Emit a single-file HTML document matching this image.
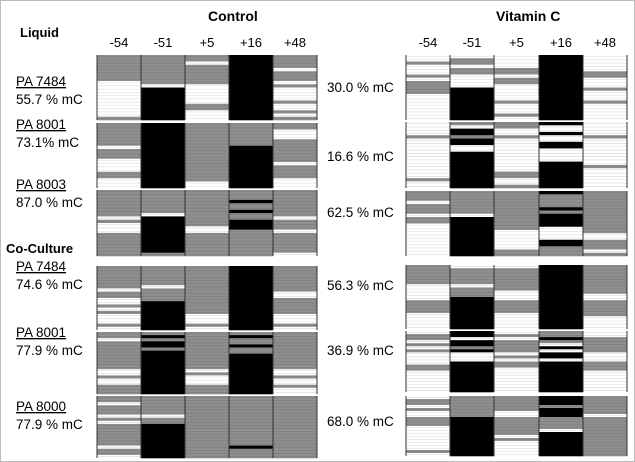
<!DOCTYPE html>
<html><head><meta charset="utf-8"><style>
html,body{margin:0;padding:0;background:#fff}
svg{display:block;font-family:"Liberation Sans",sans-serif}
</style></head><body>
<svg id="fig" width="635" height="462">
<rect x="0.5" y="0.5" width="634" height="461" fill="#fff" stroke="#bbb"/>
<text x="208" y="21" font-size="14" font-weight="bold">Control</text>
<text x="496" y="21" font-size="14" font-weight="bold">Vitamin C</text>
<text x="20" y="37" font-size="13" font-weight="bold">Liquid</text>
<text x="6" y="253" font-size="13" font-weight="bold">Co-Culture</text>
<g id="grid"></g>
</svg>
<script>
const positions = ["-54","-51","+5","+16","+48"];
const leftNames = ["PA 7484","PA 8001","PA 8003","PA 7484","PA 8001","PA 8000"];
const leftPct = ["55.7 % mC","73.1% mC","87.0 % mC","74.6 % mC","77.9 % mC","77.9 % mC"];
const rightPct = ["30.0 % mC","16.6 % mC","62.5 % mC","56.3 % mC","36.9 % mC","68.0 % mC"];
const controlCells = [
 ["ggggggggwwwwwwwwwwwg","gggggggggwbbbbbbbbbb","ggwggggggwwwwwwggwww","bbbbbbbbbbbbbbbbbbbb","ggggwgggwgwwwwgwwgwg"],
 ["gggggggwgggwwwwggwww","bbbbbbbbbbbbbbbbbbbb","ggggggggggggggggggww","gggggggbbbbbbbbbbbbb","ggwwwgggggggwggggwww"],
 ["ggggggggwgwwwggggggg","gggggggwbbbbbbbbbbbg","gggggggggggwwggggggg","gggbggbggbbbgggggggg","ggggggggwgggwggggggw"],
 ["gggggggwggwwgwgwwwgw","ggggggwggggbbbbbbbbb","gggggggggggggggwwwgw","bbbbbbbbbbbbbbbbbbbb","ggggggggwwgggggwwwgw"],
 ["ggwgggggggggwwgwwggg","gbgbbgbbbbbbbbbbbbbb","ggggggggggggwgwwwggg","gbggbggbbbbbbbbbbbbb","ggggggggggggwwgwwgww"],
 ["ggwgggwgwgggggggwggw","ggggggwggbbbbbbbbbbb","gggggggggggggggggggg","ggggggggggggggggbggg","gggggggggggggggggggg"]
];
const vitCCells = [
 ["wwgwwwgwggggwwwwwwww","wggwggwwwwbbbbbbbbbb","wwwwggwggwwwwwgwwwgw","bbbbbbbbbbbbbbbbbbbb","wwwwwggwwwgwwwgwwwww"],
 ["wwwwgwwwwwwwwwwwwgww","gwbbgbbwwbbbbbbbbbbb","ggwwgwwwwwwwwwwggwwg","bwwbwwbbwwwwbbbbbbbb","wwwwgwwwwwwwwgwwwwww"],
 ["gggwgggwggwwwwwwwwww","gggggggwbbbbbbbbbbbb","ggggggggggggwwwwwwgg","bggggbgbbbbwwwwbbggg","gggggggggggggwwgggwg"],
 ["ggggggwwwwwggggwwwww","wgggggwgggbbbbbbbbbb","wgggggggwwwggggwwwww","bbbbbbbbbbbbbbbbbbbb","gggggggggwwgggggwwww"],
 ["wggwgwgwwwwggwwwwwww","bbwbbgbwwwbbbbbbbbbb","wgwggggwgwggwwwwwwww","ggbgwbwbbwbbbbbbbbbb","wwgggggwwwgggwwwwwww"],
 ["wggwgwwgggwwwwwwwwgw","gggggggbbbbbbbbbbbbb","gggggwwggggggwgwwwww","bbbgbbbggggwbbbbbbbb","ggggggwggggggggggggg"]
];
const leftX = [97,141,185,229,273,317];
const rightX = [406,450,494,539,583,627];
const panelsL = [[55,120],[123,188],[190,256],[266,330],[332,394],[396,458]];
const panelsR = [[55,120],[122,188],[191,256],[265,329],[331,392],[396,456]];
const colors = {g:"#8e8e8e", w:"#ffffff", b:"#000000"};
const NS = "http://www.w3.org/2000/svg";
const grid = document.getElementById("grid");
function mk(tag, attrs){const e=document.createElementNS(NS,tag);for(const k in attrs)e.setAttribute(k,attrs[k]);return e;}
function drawGrid(cells, xs, panels, side){
  cells.forEach((panel,pi)=>{
    const [y0,y1]=panels[pi];
    const g=mk("g",{});
    
    
    panel.forEach((col,ci)=>{
      const x0=xs[ci], x1=xs[ci+1];
      const n=col.length, h=(y1-y0)/n;
      for(let r=0;r<n;r++){
        const c=col[r];
        const rr=mk("rect",{x:x0,y:y0+r*h,width:x1-x0,height:h+0.3,fill:colors[c]});
        
        
        g.appendChild(rr);
        if(c!=="b"){
          const ln=mk("line",{x1:x0,x2:x1,y1:y0+r*h+h/2,y2:y0+r*h+h/2,stroke:c==="w"?"#d8d8d8":"#7a7a7a","stroke-width":0.6});
          g.appendChild(ln);
        }
      }
      const sep=mk("line",{x1:x0,x2:x0,y1:y0,y2:y1,stroke:"#333","stroke-width":1});
      g.appendChild(sep);
    });
    const sep=mk("line",{x1:xs[5],x2:xs[5],y1:y0,y2:y1,stroke:"#333","stroke-width":1});
    g.appendChild(sep);
    grid.appendChild(g);
  });
  positions.forEach((p,i)=>{
    const t=mk("text",{x:(xs[i]+xs[i+1])/2,y:47,"font-size":13,"text-anchor":"middle"});
    t.textContent=p;
    
    
    grid.appendChild(t);
  });
}
drawGrid(controlCells, leftX, panelsL, "control");
drawGrid(vitCCells, rightX, panelsR, "vitamin-c");
const nameY=[86,129,189,271,337,411];
const pctY=[104,147,207,289,355,429];
const midY=[92,161,217,290,355,426];
leftNames.forEach((n,i)=>{
  const t=mk("text",{x:16,y:nameY[i],"font-size":13.5,"text-decoration":"underline"});
  t.textContent=n;
  
  
  grid.appendChild(t);
  const p=mk("text",{x:16,y:pctY[i],"font-size":13.5});
  p.textContent=leftPct[i];
  
  
  grid.appendChild(p);
  const m=mk("text",{x:327,y:midY[i],"font-size":13.5});
  m.textContent=rightPct[i];
  
  
  grid.appendChild(m);
});
</script>
</body></html>
